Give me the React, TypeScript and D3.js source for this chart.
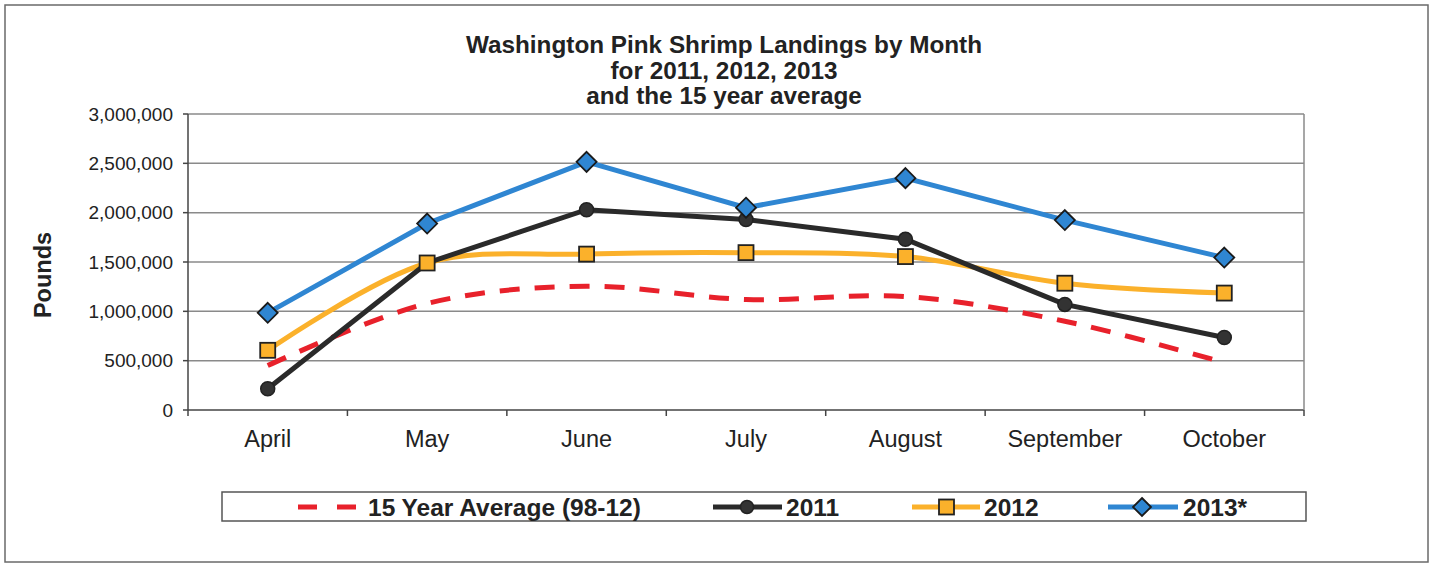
import React from "react";
import * as d3 from "d3";

const months = ["April", "May", "June", "July", "August", "September", "October"];
const avg15 = [450000, 1080000, 1255000, 1120000, 1150000, 900000, 480000];
const y2011 = [215000, 1490000, 2030000, 1930000, 1730000, 1070000, 735000];
const y2012 = [605000, 1490000, 1580000, 1595000, 1555000, 1285000, 1185000];
const y2013 = [985000, 1890000, 2515000, 2050000, 2350000, 1925000, 1545000];
const yTicks = [0, 500000, 1000000, 1500000, 2000000, 2500000, 3000000];
const titleLines = ["Washington Pink Shrimp Landings by Month", "for 2011, 2012, 2013", "and the 15 year average"];

const W = 1437, H = 564;
const FONT = "'Liberation Sans', Arial, Helvetica, sans-serif";

const C_RED = "#e8212b";
const C_BLACK = "#2a2a2a";
const C_ORANGE = "#fbb12b";
const C_BLUE = "#2f86d2";
const C_GRID = "#8a8a8a";

export default function App() {
  const x = d3.scaleBand<string>().domain(months).range([188, 1304]);
  const y = d3.scaleLinear().domain([0, 3000000]).range([410, 114]);
  const cx = (m: string) => (x(m) as number) + x.bandwidth() / 2;
  const fmt = d3.format(",");

  const lineStraight = d3.line<number>().x((_, i) => cx(months[i])).y((v) => y(v));
  const lineSmooth = d3.line<number>().x((_, i) => cx(months[i])).y((v) => y(v)).curve(d3.curveCatmullRom.alpha(0.5));

  const diamond = (px: number, py: number, r: number) =>
    `M${px},${py - r}L${px + r},${py}L${px},${py + r}L${px - r},${py}Z`;

  const [x0, x1] = x.range();
  const [yb, yt] = y.range();

  const legendY = 507;

  return (
    <svg width={W} height={H} style={{ position: "absolute", left: 0, top: 0, background: "#fff" }}>
      <rect x={5} y={5} width={1423} height={557} fill="#fff" stroke="#6a6a6a" strokeWidth={1.5} />
      {titleLines.map((t, i) => (
        <text key={t} x={724} y={53 + i * 25.5} textAnchor="middle" fontFamily={FONT} fontWeight="bold" fontSize={24.3} fill="#222">
          {t}
        </text>
      ))}
      {yTicks.map((t) => (
        <g key={t}>
          <line x1={x0} x2={x1} y1={y(t)} y2={y(t)} stroke={t === 0 ? "#444" : C_GRID} strokeWidth={1.5} />
          <line x1={x0 - 5} x2={x0} y1={y(t)} y2={y(t)} stroke="#444" strokeWidth={1.5} />
          <text x={173} y={y(t) + 6.5} textAnchor="end" fontFamily={FONT} fontSize={19} fill="#222">
            {fmt(t)}
          </text>
        </g>
      ))}
      <line x1={x0} x2={x0} y1={yt} y2={yb} stroke="#444" strokeWidth={1.5} />
      <line x1={x1} x2={x1} y1={yt} y2={yb} stroke={C_GRID} strokeWidth={1.5} />
      {months.map((m, i) => (
        <g key={m}>
          <line x1={x(m) as number} x2={x(m) as number} y1={yb} y2={yb + 6} stroke="#444" strokeWidth={1.5} />
          {i === months.length - 1 && (
            <line x1={x1} x2={x1} y1={yb} y2={yb + 6} stroke="#444" strokeWidth={1.5} />
          )}
          <text x={cx(m)} y={447} textAnchor="middle" fontFamily={FONT} fontSize={23.5} fill="#222">
            {m}
          </text>
        </g>
      ))}
      <text transform={`translate(51,275) rotate(-90)`} textAnchor="middle" fontFamily={FONT} fontWeight="bold" fontSize={23.5} fill="#222">
        Pounds
      </text>
      <path d={lineSmooth(avg15) || ""} fill="none" stroke={C_RED} strokeWidth={5} strokeDasharray="20 15" />
      <path d={lineSmooth(y2012) || ""} fill="none" stroke={C_ORANGE} strokeWidth={5} />
      <path d={lineStraight(y2011) || ""} fill="none" stroke={C_BLACK} strokeWidth={5} />
      <path d={lineStraight(y2013) || ""} fill="none" stroke={C_BLUE} strokeWidth={5} />
      {y2011.map((v, i) => (
        <circle key={"c" + i} cx={cx(months[i])} cy={y(v)} r={7} fill="#333" stroke="#222" strokeWidth={1.5} />
      ))}
      {y2012.map((v, i) => (
        <rect key={"s" + i} x={cx(months[i]) - 7.5} y={y(v) - 7.5} width={15} height={15} fill={C_ORANGE} stroke="#222" strokeWidth={1.8} />
      ))}
      {y2013.map((v, i) => (
        <path key={"d" + i} d={diamond(cx(months[i]), y(v), 10)} fill={C_BLUE} stroke="#1a1a1a" strokeWidth={1.8} />
      ))}
      <rect x={222} y={492} width={1084} height={29} fill="#fff" stroke="#555" strokeWidth={1.5} />
      <line x1={298} x2={356} y1={legendY} y2={legendY} stroke={C_RED} strokeWidth={5} strokeDasharray="19 20" />
      <text x={368} y={legendY + 8.5} fontFamily={FONT} fontWeight="bold" fontSize={24.5} fill="#222">15 Year Average (98-12)</text>
      <line x1={713} x2={782} y1={legendY} y2={legendY} stroke={C_BLACK} strokeWidth={5} />
      <circle cx={747} cy={legendY} r={6.5} fill="#333" stroke="#222" strokeWidth={1.5} />
      <text x={786} y={legendY + 8.5} fontFamily={FONT} fontWeight="bold" fontSize={24.5} fill="#222">2011</text>
      <line x1={912} x2={980} y1={legendY} y2={legendY} stroke={C_ORANGE} strokeWidth={5} />
      <rect x={939} y={legendY - 7.5} width={15} height={15} fill={C_ORANGE} stroke="#222" strokeWidth={1.8} />
      <text x={984} y={legendY + 8.5} fontFamily={FONT} fontWeight="bold" fontSize={24.5} fill="#222">2012</text>
      <line x1={1108} x2={1178} y1={legendY} y2={legendY} stroke={C_BLUE} strokeWidth={5} />
      <path d={diamond(1142, legendY, 9)} fill={C_BLUE} stroke="#1a1a1a" strokeWidth={1.8} />
      <text x={1183} y={legendY + 8.5} fontFamily={FONT} fontWeight="bold" fontSize={24.5} fill="#222">2013*</text>
    </svg>
  );
}
